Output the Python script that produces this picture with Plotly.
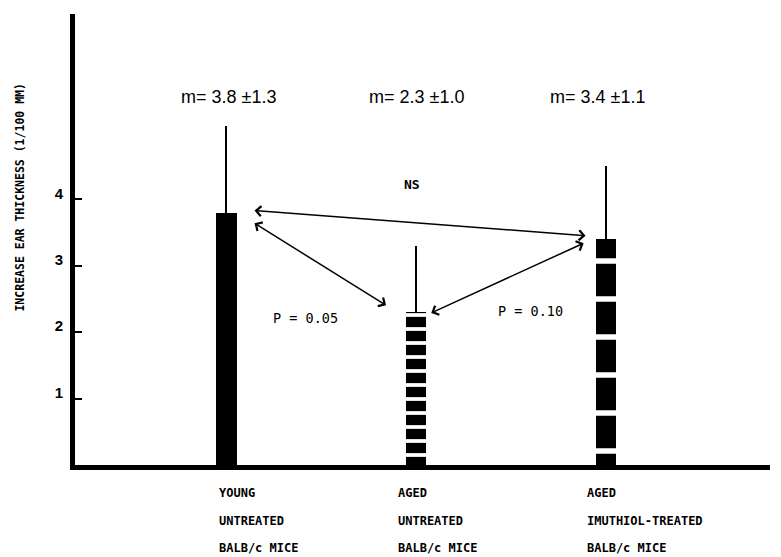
import plotly.graph_objects as go

# ---- data ----
groups = ["Young untreated", "Aged untreated", "Aged imuthiol-treated"]
label_lines = [
    ["YOUNG", "UNTREATED", "BALB/c MICE"],
    ["AGED", "UNTREATED", "BALB/c MICE"],
    ["AGED", "IMUTHIOL-TREATED", "BALB/c MICE"],
]
means = [3.8, 2.3, 3.4]
sds = [1.3, 1.0, 1.1]
mean_labels = ["m= 3.8 \u00b11.3", "m= 2.3 \u00b11.0", "m= 3.4 \u00b11.1"]
y_ticks = [1, 2, 3, 4]
y_title = "INCREASE EAR THICKNESS (1/100 MM)"
# comparisons: (group a, group b, label)
comparisons = [(0, 2, "NS"), (0, 1, "P = 0.05"), (1, 2, "P = 0.10")]

# ---- style ----
MONO = "DejaVu Sans Mono"
SANS = "Liberation Sans"
pattern_shapes = ["", "-", "-"]
pattern_sizes = [8, 14, 38]
pattern_solid = [0.2, 0.27, 0.14]

fig = go.Figure()
fig.add_trace(go.Bar(
    x=list(range(len(groups))),
    y=means,
    width=0.11,
    marker=dict(
        color="black",
        line=dict(width=0),
        pattern=dict(shape=pattern_shapes, size=pattern_sizes,
                     solidity=pattern_solid, fgcolor="white",
                     bgcolor="black", fgopacity=1, fillmode="replace"),
    ),
    error_y=dict(type="data", array=sds, arrayminus=[0] * len(sds),
                 symmetric=False, width=0, thickness=1.5, color="black"),
    hovertext=groups,
    showlegend=False,
))

ann = []
# mean labels
mean_xshift = [2, 0, -9]
for i, t in enumerate(mean_labels):
    ann.append(dict(x=i, y=0.816, xref="x", yref="paper", text=t,
                    showarrow=False, xshift=mean_xshift[i],
                    xanchor="center", yanchor="middle",
                    font=dict(family=SANS, size=18, color="black")))
# category labels
cat_xshift = [-9, -20, -21]
line_yshift = [-28, -56, -83]
for i, lines in enumerate(label_lines):
    for k, ln in enumerate(lines):
        ann.append(dict(x=i, y=0, xref="x", yref="y", text=ln,
                        showarrow=False, xanchor="left", yanchor="middle",
                        xshift=cat_xshift[i], yshift=line_yshift[k],
                        font=dict(family=MONO, size=12, color="black",
                                  weight="bold")))
# comparison arrows (offsets from bar tops)
arrow_off = [
    ((0.15, 0.03), (-0.10, 0.05)),
    ((0.15, -0.16), (-0.15, 0.09)),
    ((0.08, -0.01), (-0.11, -0.05)),
]
text_pos = [(0.98, 4.23), (0.42, 2.21), (1.60, 2.32)]
text_bold = ["bold", "normal", "normal"]
text_size = [13, 13.5, 13.5]
for (a, b, lab), (oa, ob), (tx, ty), fw, fs in zip(
        comparisons, arrow_off, text_pos, text_bold, text_size):
    ann.append(dict(x=a + oa[0], y=means[a] + oa[1],
                    ax=b + ob[0], ay=means[b] + ob[1],
                    xref="x", yref="y", axref="x", ayref="y",
                    text="", showarrow=True, arrowside="end+start",
                    arrowhead=4, startarrowhead=4, arrowsize=1.3,
                    startarrowsize=1.3, arrowwidth=1.5, arrowcolor="black",
                    standoff=0, startstandoff=0))
    ann.append(dict(x=tx, y=ty, xref="x", yref="y", text=lab,
                    showarrow=False, xanchor="center", yanchor="middle",
                    font=dict(family=MONO, size=fs, color="black",
                              weight=fw)))
# y title
ann.append(dict(x=0, y=0.593, xref="paper", yref="paper", text=y_title,
                textangle=-90, showarrow=False, xshift=-55,
                xanchor="center", yanchor="middle",
                font=dict(family=MONO, size=11.5, color="black",
                          weight="bold")))

# page body has an 8px default margin, so the figure is sized to fit inside
fig.update_layout(
    width=773, height=549,
    margin=dict(l=67, r=11, t=6, b=92),
    paper_bgcolor="white", plot_bgcolor="white",
    annotations=ann,
    bargap=0,
)
fig.update_xaxes(range=[-0.795, 2.863], showline=True, linewidth=5,
                 linecolor="black", showgrid=False, zeroline=False,
                 showticklabels=False, ticks="")
fig.update_yaxes(range=[0, 6.79], showline=True, linewidth=5,
                 linecolor="black", showgrid=False, zeroline=False,
                 tickvals=y_ticks, ticks="inside", ticklen=7, tickwidth=1.5,
                 tickcolor="black", ticklabelstandoff=4, ticklabelshift=-6,
                 tickfont=dict(family=SANS, size=15, color="black",
                               weight="bold"))

fig.write_html("out.html")
